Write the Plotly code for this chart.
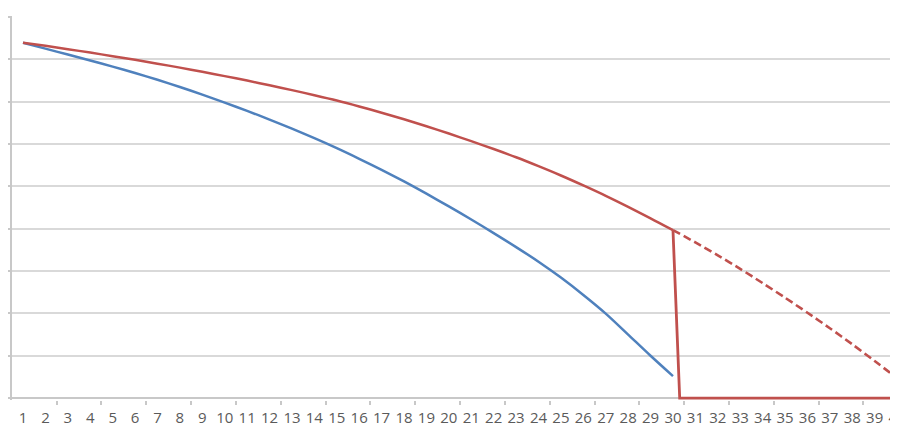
import plotly.graph_objects as go

categories = list(range(1, 41))
tick_labels = [str(c) for c in categories]

# Blue series (categories 1..30)
blue_x = list(range(1, 31))
blue_values = [8.39, 8.25, 8.11, 7.97, 7.825, 7.675, 7.515, 7.345, 7.165, 6.975,
               6.78, 6.575, 6.36, 6.135, 5.90, 5.65, 5.39, 5.115, 4.825, 4.525,
               4.215, 3.895, 3.565, 3.22, 2.845, 2.435, 1.995, 1.50, 1.00, 0.52]

# Red series, solid part (categories 1..30)
red_x = list(range(1, 31))
red_values = [8.39, 8.315, 8.237, 8.156, 8.072, 7.985, 7.895, 7.801, 7.703, 7.601,
              7.495, 7.385, 7.27, 7.15, 7.025, 6.885, 6.737, 6.581, 6.417, 6.245,
              6.065, 5.88, 5.685, 5.475, 5.255, 5.02, 4.775, 4.515, 4.245, 3.965]

# Red series after the drop (falls to zero just after category 30)
red_drop_x = [30, 30.3, 41]
red_drop_values = [3.965, 0, 0]

# Red dashed projection (categories 30..40)
red_dash_x = list(range(30, 41))
red_dash_values = [3.965, 3.675, 3.37, 3.05, 2.715, 2.37, 2.015, 1.65, 1.27, 0.875, 0.47]

BLUE = "#4f81bd"
RED = "#c0504d"

fig = go.Figure()
fig.add_trace(go.Scatter(x=blue_x, y=blue_values, mode="lines",
                         line=dict(color=BLUE, width=2.5, shape="spline", smoothing=0.8),
                         showlegend=False, hoverinfo="skip"))
fig.add_trace(go.Scatter(x=red_dash_x, y=red_dash_values, mode="lines",
                         line=dict(color=RED, width=2.6, dash="8px,4px", shape="spline", smoothing=0.8),
                         showlegend=False, hoverinfo="skip"))
fig.add_trace(go.Scatter(x=red_x, y=red_values, mode="lines",
                         line=dict(color=RED, width=2.5, shape="spline", smoothing=0.8),
                         showlegend=False, hoverinfo="skip"))
fig.add_trace(go.Scatter(x=red_drop_x, y=red_drop_values, mode="lines",
                         line=dict(color=RED, width=2.8),
                         showlegend=False, hoverinfo="skip"))
# invisible trace on secondary x axis to carry boundary tick marks
fig.add_trace(go.Scatter(x=[1], y=[None], xaxis="x2", mode="lines",
                         showlegend=False, hoverinfo="skip"))

# the page body has an 8px default margin, so the figure is sized to fill the window
xrange = [0.509, 40.04]
fig.update_layout(
    width=890, height=415,
    margin=dict(l=4, r=0, t=8, b=23, autoexpand=False),
    paper_bgcolor="white", plot_bgcolor="white",
    font=dict(family="Open Sans, DejaVu Sans, sans-serif", size=15, color="#5a5a5a"),
    xaxis=dict(range=xrange, tickmode="array", tickvals=categories, ticktext=tick_labels,
               showgrid=False, zeroline=False, showline=False, automargin=False,
               ticks="outside", ticklen=0, tickcolor="rgba(0,0,0,0)",
               ticklabelstandoff=4, ticklabeloverflow="allow",
               tickfont=dict(size=15, color="#5a5a5a")),
    xaxis2=dict(range=xrange, overlaying="x", side="bottom", anchor="y", automargin=False,
                tickmode="array", tickvals=[0.5 + 2 * k for k in range(21)],
                showticklabels=False, ticks="outside", ticklen=4,
                tickcolor="#c8c8c8", tickwidth=1.5,
                showgrid=False, zeroline=False, showline=False),
    yaxis=dict(range=[-0.045, 9.02], tickmode="linear", tick0=0, dtick=1, automargin=False,
               showticklabels=False, showgrid=True, gridcolor="#d9d9d9", gridwidth=1.5,
               zeroline=True, zerolinecolor="#c8c8c8", zerolinewidth=1.5,
               showline=True, linecolor="#c8c8c8", linewidth=1.5,
               ticks="outside", ticklen=5, tickcolor="#c8c8c8", tickwidth=1.5),
)

fig.write_html("out.html")
